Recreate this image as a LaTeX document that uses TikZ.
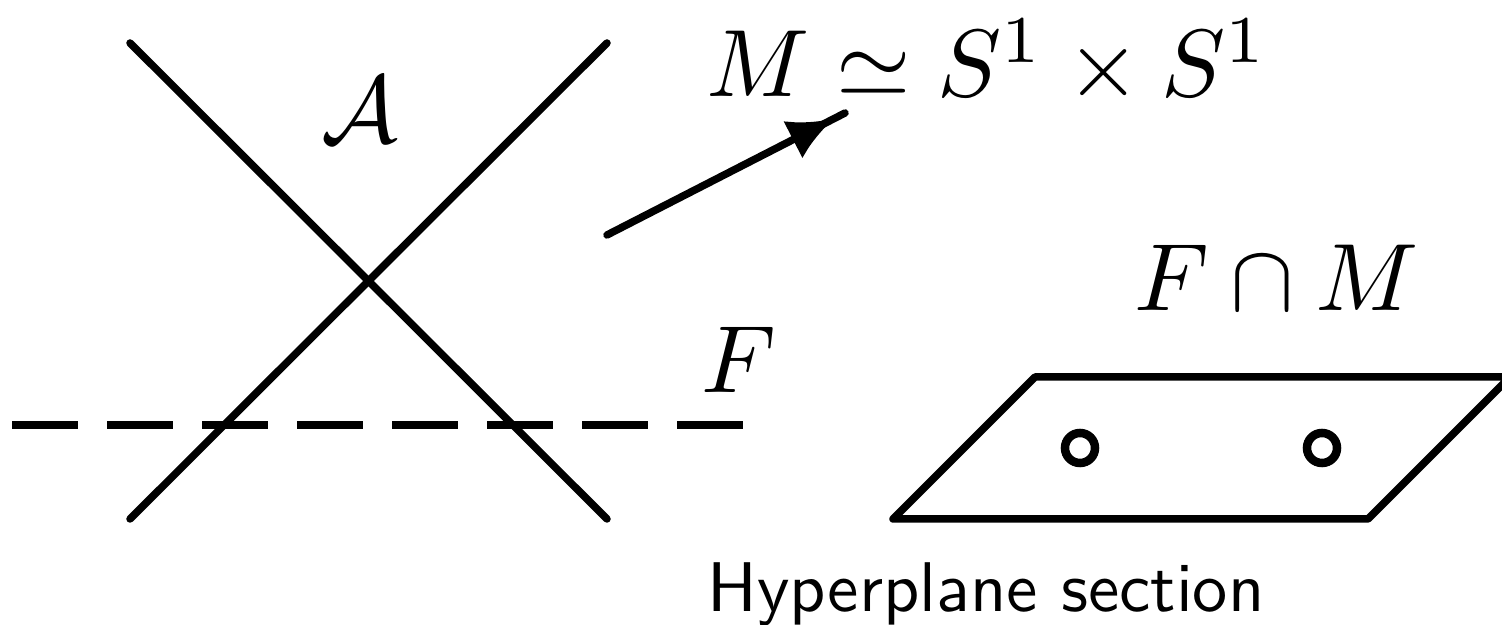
\documentclass[tikz,border=0pt]{standalone}
\usetikzlibrary{arrows.meta,decorations.markings}
\begin{document}
\begin{tikzpicture}[x=0.01cm,y=-0.01cm,
  thickline/.style={line width=0.075cm,line cap=round,line join=round},
  dashline/.style={line width=0.075cm,dash pattern=on 0.66cm off 0.29cm},
  bigmath/.style={inner sep=0pt,scale=2.72},
  caption/.style={inner sep=0pt,scale=2.0,font=\sffamily},
  hole/.style={line width=0.085cm}
]
\useasboundingbox (0,0) rectangle (1502,625);
% X lines
\coordinate (a1) at (130,43);
\coordinate (a2) at (607,519);
\coordinate (b1) at (607,43);
\coordinate (b2) at (130,519);
\draw[thickline] (a1) -- (a2);
\draw[thickline] (b1) -- (b2);
% dashed F
\coordinate (f1) at (12,425);
\coordinate (f2) at (745,425);
\draw[dashline] (f1) -- (f2);
% arrow
\coordinate (s) at (607,235);
\coordinate (t) at (845,113);
\draw[thickline,postaction={decorate},decoration={markings,
  mark=at position 0.955 with {\arrow{Latex[length=0.46cm,width=0.42cm]}}}] (s) -- (t);
% labels
\node[bigmath,anchor=base west] (lM) at (705,97) {$M \simeq S^1 \times S^1$};
\node[bigmath,anchor=base] (lA) at (360,143) {$\mathcal{A}$};
\node[bigmath,anchor=base west] (lF) at (700,393) {$F$};
\node[bigmath,anchor=base west] (lFM) at (1133,311) {$F \cap M$};
\node[caption,anchor=base west] (cap) at (706,612) {Hyperplane section};
% parallelogram
\coordinate (p1) at (1035,377);
\coordinate (p2) at (1510,377);
\coordinate (p3) at (1368,519);
\coordinate (p4) at (893,519);
\draw[thickline] (p1) -- (p2) -- (p3) -- (p4) -- cycle;
% holes
\node[draw,hole,circle,minimum size=0.3cm,inner sep=0pt] (h1) at (1080,448) {};
\node[draw,hole,circle,minimum size=0.3cm,inner sep=0pt] (h2) at (1322,448) {};
\end{tikzpicture}
\end{document}
